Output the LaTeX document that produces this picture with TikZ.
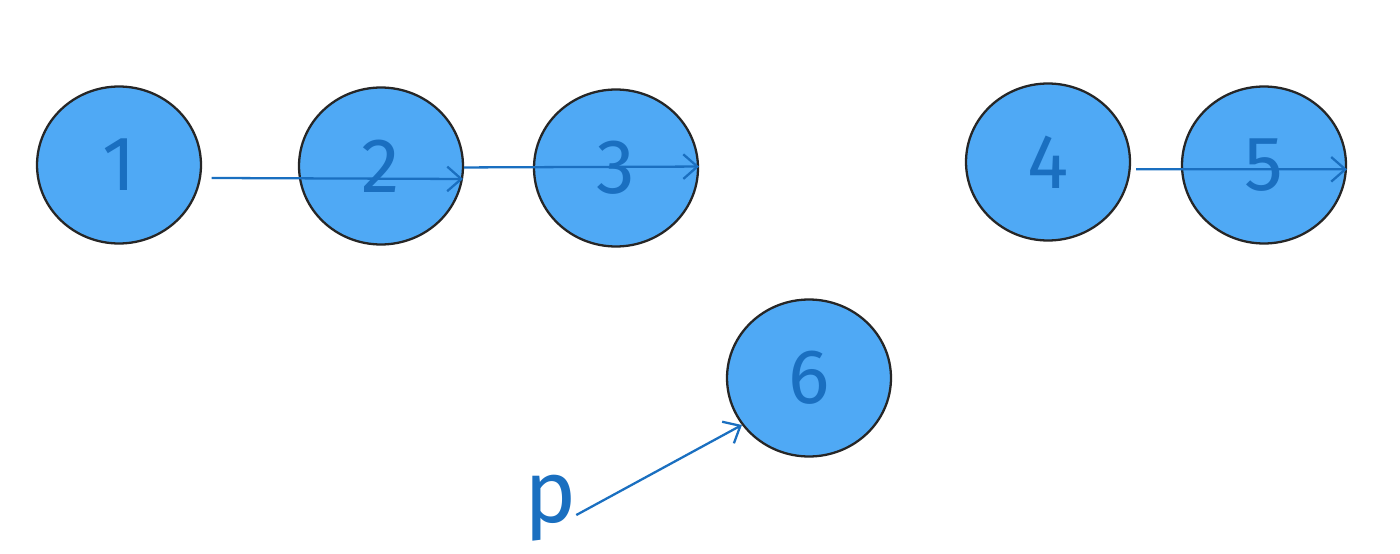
\documentclass[tikz,border=0pt]{standalone}
\usepackage{fontspec}
\setmainfont{Fira Sans}
\usetikzlibrary{shapes.geometric,arrows.meta}
\definecolor{ballfill}{HTML}{4FA9F5}
\definecolor{balltext}{HTML}{1A6FC0}
\tikzset{
  ball/.style={ellipse,draw=black!85,line width=1.3pt,fill=ballfill,text=balltext,
    minimum width=3.28cm,minimum height=3.14cm,inner sep=0pt,font=\fontsize{44}{50}\selectfont},
  link/.style={draw=balltext,line width=1.3pt,-{Straight Barb[length=8pt,width=14pt]}}
}
\begin{document}
\begin{tikzpicture}[x=0.02cm,y=-0.02cm]
\useasboundingbox (0,0) rectangle (1400,554);
% balls
\node[ball] (n1) at (119,165) {1};
\node[ball] (n2) at (381,166) {2};
\node[ball] (n3) at (616,168) {3};
\node[ball] (n4) at (1048,162) {4};
\node[ball] (n5) at (1264,165) {5};
\node[ball] (n6) at (809,378) {6};
\node[text=balltext,font=\fontsize{50}{56}\selectfont] (p) at (551,508) {p};
% links
\draw[link] ([xshift=6pt]n1.-9) -- (n2.-9);
\draw[link] (n2.-1) -- (n3.1);
\draw[link] ([xshift=3pt]n4.-5) -- (n5.-3);
\draw[link] ([xshift=-4pt,yshift=-4pt]p.east) -- (n6.-145);
\end{tikzpicture}
\end{document}
